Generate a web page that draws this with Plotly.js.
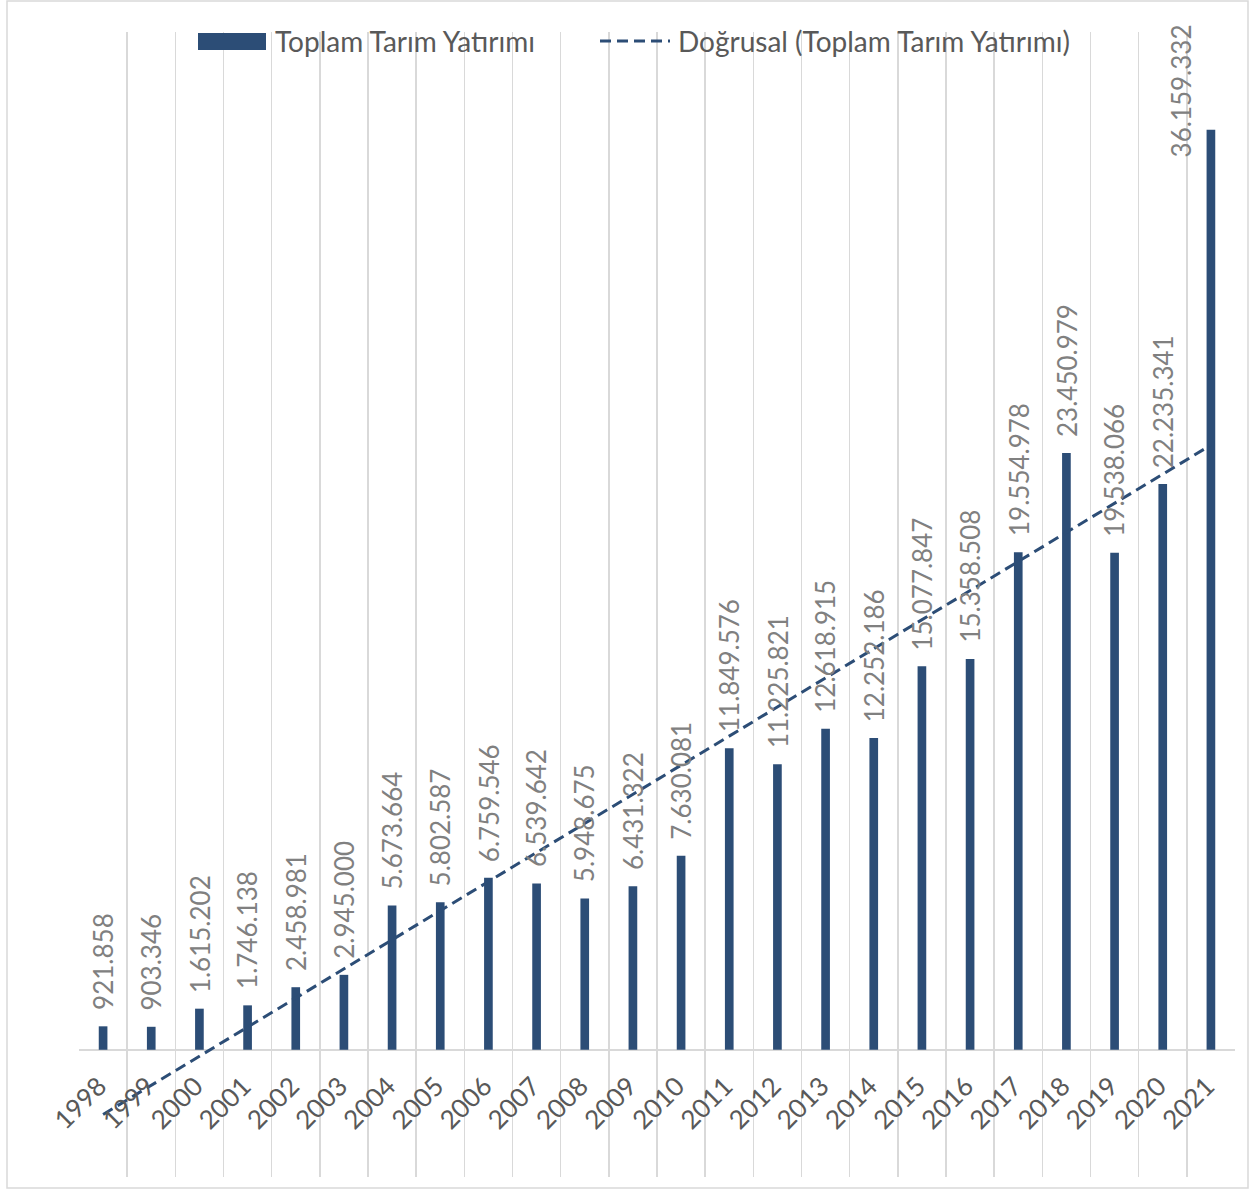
<!DOCTYPE html>
<html>
<head>
<meta charset="utf-8">
<script src="https://cdn.plot.ly/plotly-3.0.1.min.js"></script>
<style>
  html, body { margin: 0; padding: 0; background: #ffffff; }
  #chart { width: 1253px; height: 1189px; }
</style>
</head>
<body>
<div id="chart"></div>
<script>
// ---- data ----
const years = ['1998','1999','2000','2001','2002','2003','2004','2005','2006','2007','2008','2009',
               '2010','2011','2012','2013','2014','2015','2016','2017','2018','2019','2020','2021'];
const values = [921858, 903346, 1615202, 1746138, 2458981, 2945000, 5673664, 5802587, 6759546, 6539642,
                5948675, 6431322, 7630081, 11849576, 11225821, 12618915, 12252186, 15077847, 15358508,
                19554978, 23450979, 19538066, 22235341, 36159332];
const valueLabels = ['921.858','903.346','1.615.202','1.746.138','2.458.981','2.945.000','5.673.664',
                     '5.802.587','6.759.546','6.539.642','5.948.675','6.431.322','7.630.081','11.849.576',
                     '11.225.821','12.618.915','12.252.186','15.077.847','15.358.508','19.554.978',
                     '23.450.979','19.538.066','22.235.341','36.159.332'];
const seriesName = 'Toplam Tarım Yatırımı';
const trendName = 'Doğrusal (Toplam Tarım Yatırımı)';

// ---- linear (least squares) trendline, as Excel's "Doğrusal" ----
const n = values.length;
const idx = values.map((_, i) => i);
const mx = idx.reduce((a, b) => a + b, 0) / n;
const my = values.reduce((a, b) => a + b, 0) / n;
let sxy = 0, sxx = 0;
for (let i = 0; i < n; i++) { sxy += (idx[i] - mx) * (values[i] - my); sxx += (idx[i] - mx) ** 2; }
const slope = sxy / sxx;
const intercept = my - slope * mx;
const trend = idx.map(i => intercept + slope * i);

// ---- style ----
const W = 1253, H = 1189;
const M = { l: 79, r: 18, t: 32, b: 12 };
const PW = W - M.l - M.r, PH = H - M.t - M.b;
const yRange = [-5000000, 40000000];
const barColor = '#2c4d76';
const gridColor = '#d9d9d9';
const FONT = 'Lato, "Open Sans", "DejaVu Sans", sans-serif';
const px2x = p => (p - M.l) / PW;
const px2y = p => (H - M.b - p) / PH;

const traces = [
  {
    type: 'bar', x: years, y: values, name: seriesName,
    marker: { color: barColor }, hoverinfo: 'x+y', showlegend: false
  },
  {
    type: 'scatter', mode: 'lines', x: years, y: trend, name: trendName,
    line: { color: barColor, width: 3, dash: '11px,6px' }, hoverinfo: 'skip', showlegend: false
  }
];

// data labels (rotated); category axes take the category index in annotations
const scale = PH / (yRange[1] - yRange[0]);
const labelFont = { family: FONT, size: 26, color: '#808080' };
const annotations = values.map((v, i) => {
  const barTopPx = M.t + (yRange[1] - v) * scale;
  const estLen = valueLabels[i].length * 12.6;
  const topPx = barTopPx - 14 - estLen;
  if (topPx < 22) {
    // label that would leave the chart: kept inside, beside the bar
    return { x: i, xref: 'x', y: px2y(22), yref: 'paper', yanchor: 'top', xanchor: 'center', xshift: -29,
             text: valueLabels[i], textangle: -90, showarrow: false, font: labelFont };
  }
  return { x: i, xref: 'x', y: v, yref: 'y', yanchor: 'bottom', xanchor: 'center', yshift: 14,
           text: valueLabels[i], textangle: -90, showarrow: false, font: labelFont };
});

// custom legend
const legendFont = { family: FONT, size: 28, color: '#595959' };
annotations.push(
  { x: px2x(273), y: px2y(41.5), xref: 'paper', yref: 'paper', xanchor: 'left', yanchor: 'middle',
    text: seriesName, showarrow: false, font: legendFont },
  { x: px2x(676), y: px2y(41.5), xref: 'paper', yref: 'paper', xanchor: 'left', yanchor: 'middle',
    text: trendName, showarrow: false, font: legendFont }
);
const shapes = [
  { type: 'rect', xref: 'paper', yref: 'paper', x0: px2x(198), x1: px2x(266), y0: px2y(50), y1: px2y(33),
    fillcolor: barColor, line: { width: 0 } },
  { type: 'line', xref: 'paper', yref: 'paper', x0: px2x(600), x1: px2x(670), y0: px2y(41), y1: px2y(41),
    line: { color: barColor, width: 3, dash: '11px,6px' } },
  { type: 'rect', xref: 'paper', yref: 'paper', x0: px2x(7), x1: px2x(1248), y0: px2y(1188), y1: px2y(1),
    line: { color: gridColor, width: 1.5 }, fillcolor: 'rgba(0,0,0,0)', layer: 'below' }
];

const layout = {
  width: W, height: H,
  margin: M,
  paper_bgcolor: '#ffffff', plot_bgcolor: '#ffffff',
  bargap: 0.82,
  showlegend: false,
  font: { family: FONT, color: '#595959' },
  xaxis: {
    type: 'category', tickson: 'boundaries', showgrid: true, gridcolor: gridColor, gridwidth: 1.5,
    range: [-0.5, n - 0.5],
    tickangle: -45, ticks: '', showline: false, zeroline: false,
    ticklabelstandoff: -112, ticklabelshift: -4,
    tickfont: { family: FONT, size: 26, color: '#595959' }
  },
  yaxis: {
    range: yRange, showticklabels: false, showgrid: false, ticks: '',
    zeroline: true, zerolinecolor: gridColor, zerolinewidth: 1.5, showline: false
  },
  annotations: annotations,
  shapes: shapes
};

Plotly.newPlot('chart', traces, layout, { displayModeBar: false, staticPlot: true });
</script>
</body>
</html>
